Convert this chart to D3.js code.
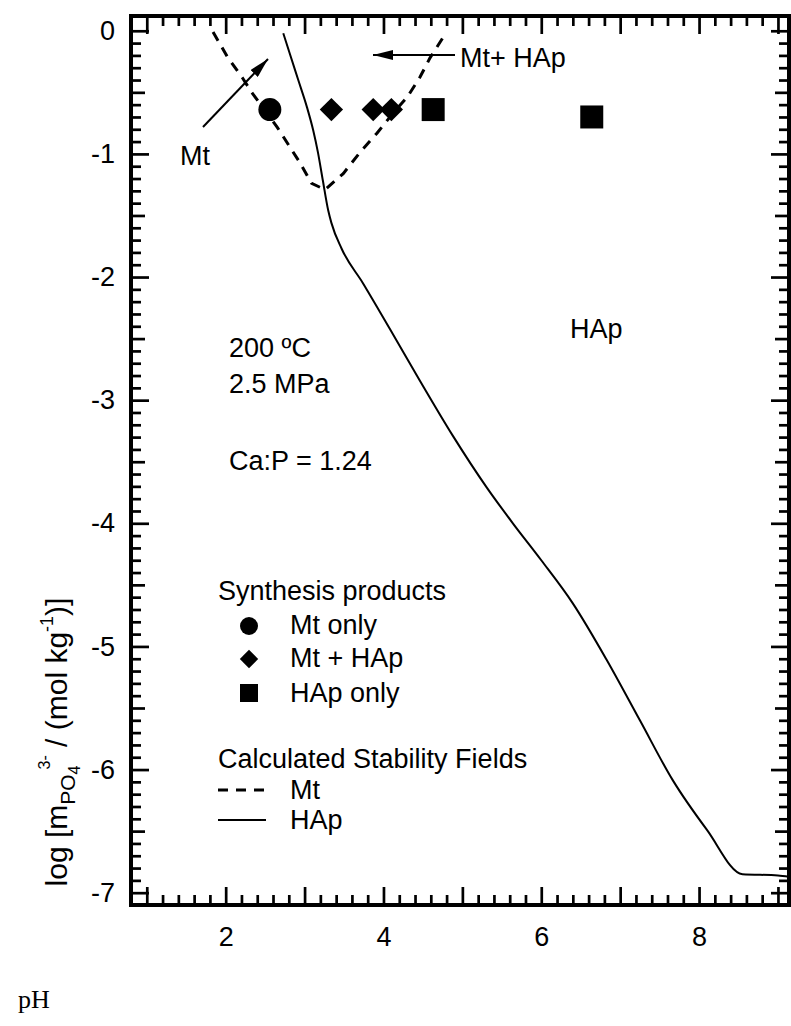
<!DOCTYPE html>
<html>
<head>
<meta charset="utf-8">
<script src="https://cdn.jsdelivr.net/npm/d3@7"></script>
<style>
  html, body { margin: 0; padding: 0; background: #fff; }
  svg { display: block; }
  text { font-family: "Liberation Sans", Arial, Helvetica, sans-serif; fill: #000; }
</style>
</head>
<body>
<svg id="chart" width="791" height="1026"></svg>
<script>
// Synthesis products at 200 °C, 2.5 MPa, Ca:P = 1.24  (pH, log m)
const mtOnlyPH = [2.56];
const mtOnlyLogM = [-0.64];
const mtHApPH = [3.34, 3.87, 4.10];
const mtHApLogM = [-0.64, -0.64, -0.64];
const hapOnlyPH = [4.63, 6.64];
const hapOnlyLogM = [-0.64, -0.70];

// Calculated stability field boundary for monetite (Mt)
const mtLinePH   = [1.84, 2.02, 2.21, 2.33, 2.65, 2.81, 2.94, 3.09, 3.26, 3.49, 3.70, 3.92, 4.12, 4.30, 4.46, 4.59, 4.75, 4.79];
const mtLineLogM = [-0.01, -0.21, -0.38, -0.50, -0.78, -0.94, -1.07, -1.24, -1.29, -1.16, -0.99, -0.83, -0.67, -0.54, -0.38, -0.22, -0.06, -0.02];

// Calculated stability field boundary for hydroxyapatite (HAp)
const hapLinePH   = [2.73, 2.81, 2.92, 3.03, 3.11, 3.17, 3.23, 3.30, 3.34, 3.47, 3.74, 4.08, 4.46, 4.88, 5.31, 5.64, 6.00, 6.40, 6.83, 7.25, 7.67, 8.10, 8.55, 9.00, 9.14];
const hapLineLogM = [-0.02, -0.18, -0.40, -0.62, -0.81, -0.99, -1.21, -1.46, -1.56, -1.77, -2.05, -2.42, -2.84, -3.29, -3.71, -4.00, -4.30, -4.65, -5.11, -5.60, -6.09, -6.49, -6.85, -6.86, -6.87];

// Axis ticks
const xLabelTicks = [2, 4, 6, 8];
const xMajorTicks = [1, 2, 3, 4, 5, 6, 7, 8, 9];
const yLabelTicks = [0, -1, -2, -3, -4, -5, -6, -7];

const svg = d3.select("#chart");
const plotL = 131, plotR = 789, plotT = 16, plotB = 905;

const x = d3.scaleLinear().domain([0.8, 9.14]).range([plotL, plotR]);
const y = d3.scaleLinear().domain([-7.1, 0.12]).range([plotB, plotT]);

const xMinor = d3.range(1.0, 9.01, 0.2).map(v => +v.toFixed(1)).filter(v => !xMajorTicks.includes(v));
const yMinor = d3.range(-7.0, 0.01, 0.1).map(v => +v.toFixed(1)).filter(v => Math.abs(v * 2 - Math.round(v * 2)) > 1e-6);
const yMid = d3.range(-7.0, 0.01, 0.5).map(v => +v.toFixed(1)).filter(v => !Number.isInteger(v));

const fs = 27;

// inward tick marks on all four sides
function tickGroup(axisFn, scale, values, size, transform) {
  const g = svg.append("g").attr("transform", transform)
    .call(axisFn(scale).tickValues(values).tickSize(size).tickFormat(""));
  g.select(".domain").remove();
  g.selectAll(".tick line").attr("stroke", "#000").attr("stroke-width", 2.7);
  return g;
}
const majorLen = 18, midLen = 14, minorLen = 10;
tickGroup(d3.axisBottom, x, xMajorTicks, -majorLen, `translate(0,${plotB})`);
tickGroup(d3.axisBottom, x, xMinor, -minorLen, `translate(0,${plotB})`);
tickGroup(d3.axisTop, x, xMajorTicks, -majorLen, `translate(0,${plotT})`);
tickGroup(d3.axisTop, x, xMinor, -minorLen, `translate(0,${plotT})`);
tickGroup(d3.axisLeft, y, yLabelTicks, -majorLen, `translate(${plotL},0)`);
tickGroup(d3.axisLeft, y, yMid, -midLen, `translate(${plotL},0)`);
tickGroup(d3.axisLeft, y, yMinor, -minorLen, `translate(${plotL},0)`);
tickGroup(d3.axisRight, y, yLabelTicks, -majorLen, `translate(${plotR},0)`);
tickGroup(d3.axisRight, y, yMid, -midLen, `translate(${plotR},0)`);
tickGroup(d3.axisRight, y, yMinor, -minorLen, `translate(${plotR},0)`);

// tick labels
const xl = svg.append("g").attr("transform", `translate(0,${plotB})`)
  .call(d3.axisBottom(x).tickValues(xLabelTicks).tickSize(0).tickPadding(22).tickFormat(d3.format("d")));
xl.select(".domain").remove();
xl.selectAll("text").style("font-size", fs + "px").style("font-family", "Liberation Sans, Arial, sans-serif");

const yl = svg.append("g").attr("transform", `translate(${plotL},0)`)
  .call(d3.axisLeft(y).tickValues(yLabelTicks).tickSize(0).tickPadding(16).tickFormat(d => d === 0 ? "0" : String(d)));
yl.select(".domain").remove();
yl.selectAll("text").style("font-size", fs + "px").style("font-family", "Liberation Sans, Arial, sans-serif");

// frame
svg.append("rect")
  .attr("x", plotL).attr("y", plotT)
  .attr("width", plotR - plotL).attr("height", plotB - plotT)
  .attr("fill", "none").attr("stroke", "#000").attr("stroke-width", 4);

// stability boundaries
svg.append("path")
  .datum(mtLinePH.map((p, i) => [p, mtLineLogM[i]]))
  .attr("d", d3.line().x(d => x(d[0])).y(d => y(d[1])))
  .attr("fill", "none").attr("stroke", "#000").attr("stroke-width", 3)
  .attr("stroke-dasharray", "10,8");
svg.append("path")
  .datum(hapLinePH.map((p, i) => [p, hapLineLogM[i]]))
  .attr("d", d3.line().x(d => x(d[0])).y(d => y(d[1])).curve(d3.curveMonotoneX))
  .attr("fill", "none").attr("stroke", "#000").attr("stroke-width", 2);

// synthesis product markers
const circleSym = d3.symbol().type(d3.symbolCircle).size(Math.PI * 11.5 * 11.5);
const squareSym = d3.symbol().type(d3.symbolSquare).size(23 * 23);
const diamondSym = d3.symbol().type(d3.symbolSquare).size(16.5 * 16.5);

svg.append("g").selectAll("path").data(mtOnlyPH.map((p, i) => [p, mtOnlyLogM[i]]))
  .join("path").attr("d", circleSym)
  .attr("transform", d => `translate(${x(d[0])},${y(d[1])})`);
svg.append("g").selectAll("path").data(mtHApPH.map((p, i) => [p, mtHApLogM[i]]))
  .join("path").attr("d", diamondSym)
  .attr("transform", d => `translate(${x(d[0])},${y(d[1])}) rotate(45)`);
svg.append("g").selectAll("path").data(hapOnlyPH.map((p, i) => [p, hapOnlyLogM[i]]))
  .join("path").attr("d", squareSym)
  .attr("transform", d => `translate(${x(d[0])},${y(d[1])})`);

// arrow-head marker
const defs = svg.append("defs");
defs.append("marker").attr("id", "head")
  .attr("viewBox", "0 0 20 10").attr("refX", 20).attr("refY", 5)
  .attr("markerUnits", "userSpaceOnUse")
  .attr("markerWidth", 20).attr("markerHeight", 10).attr("orient", "auto")
  .append("path").attr("d", "M0,0 L20,5 L0,10 Z").attr("fill", "#000");

// field annotations
svg.append("line").attr("x1", 203).attr("y1", 127).attr("x2", 268).attr("y2", 59)
  .attr("stroke", "#000").attr("stroke-width", 2).attr("marker-end", "url(#head)");
svg.append("text").attr("x", 180).attr("y", 165).style("font-size", fs + "px").text("Mt");

svg.append("line").attr("x1", 455).attr("y1", 55).attr("x2", 373).attr("y2", 55)
  .attr("stroke", "#000").attr("stroke-width", 2).attr("marker-end", "url(#head)");
svg.append("text").attr("x", 460).attr("y", 67).style("font-size", fs + "px").text("Mt+ HAp");

svg.append("text").attr("x", 570).attr("y", 338).style("font-size", fs + "px").text("HAp");

// conditions
const cond = svg.append("g").style("font-size", fs + "px");
cond.append("text").attr("x", 229).attr("y", 357).text("200 ºC");
cond.append("text").attr("x", 229).attr("y", 393).text("2.5 MPa");
cond.append("text").attr("x", 229).attr("y", 470).text("Ca:P = 1.24");

// legend
const lg = svg.append("g").style("font-size", fs + "px");
lg.append("text").attr("x", 218).attr("y", 600).text("Synthesis products");
lg.append("path").attr("d", d3.symbol().type(d3.symbolCircle).size(Math.PI * 81)())
  .attr("transform", "translate(249,626)");
lg.append("text").attr("x", 290).attr("y", 634).text("Mt only");
lg.append("path").attr("d", d3.symbol().type(d3.symbolSquare).size(13 * 13)())
  .attr("transform", "translate(249,659) rotate(45)");
lg.append("text").attr("x", 290).attr("y", 667).text("Mt + HAp");
lg.append("path").attr("d", d3.symbol().type(d3.symbolSquare).size(18 * 18)())
  .attr("transform", "translate(249,693)");
lg.append("text").attr("x", 290).attr("y", 702).text("HAp only");

lg.append("text").attr("x", 218).attr("y", 768).text("Calculated Stability Fields");
lg.append("line").attr("x1", 218).attr("x2", 266).attr("y1", 790).attr("y2", 790)
  .attr("stroke", "#000").attr("stroke-width", 3).attr("stroke-dasharray", "10,8");
lg.append("text").attr("x", 290).attr("y", 799).text("Mt");
lg.append("line").attr("x1", 218).attr("x2", 266).attr("y1", 820).attr("y2", 820)
  .attr("stroke", "#000").attr("stroke-width", 2);
lg.append("text").attr("x", 290).attr("y", 829).text("HAp");

// y-axis title
const yt = svg.append("text")
  .attr("transform", `translate(67,742) rotate(-90)`)
  .attr("text-anchor", "middle")
  .style("font-size", "30px");
yt.append("tspan").text("log [m");
yt.append("tspan").attr("dy", 8).style("font-size", "21px").text("PO");
yt.append("tspan").attr("dy", 5).style("font-size", "16px").text("4");
yt.append("tspan").attr("dy", -30).attr("dx", -4).style("font-size", "16px").text("3-");
yt.append("tspan").attr("dy", 17).text(" / (mol kg");
yt.append("tspan").attr("dy", -14).style("font-size", "18px").text("-1");
yt.append("tspan").attr("dy", 14).text(")]");

// x-axis title
svg.append("text").attr("x", 18).attr("y", 1008)
  .style("font-family", "Liberation Serif, Times New Roman, serif")
  .style("font-size", "26px").text("pH");
</script>
</body>
</html>
